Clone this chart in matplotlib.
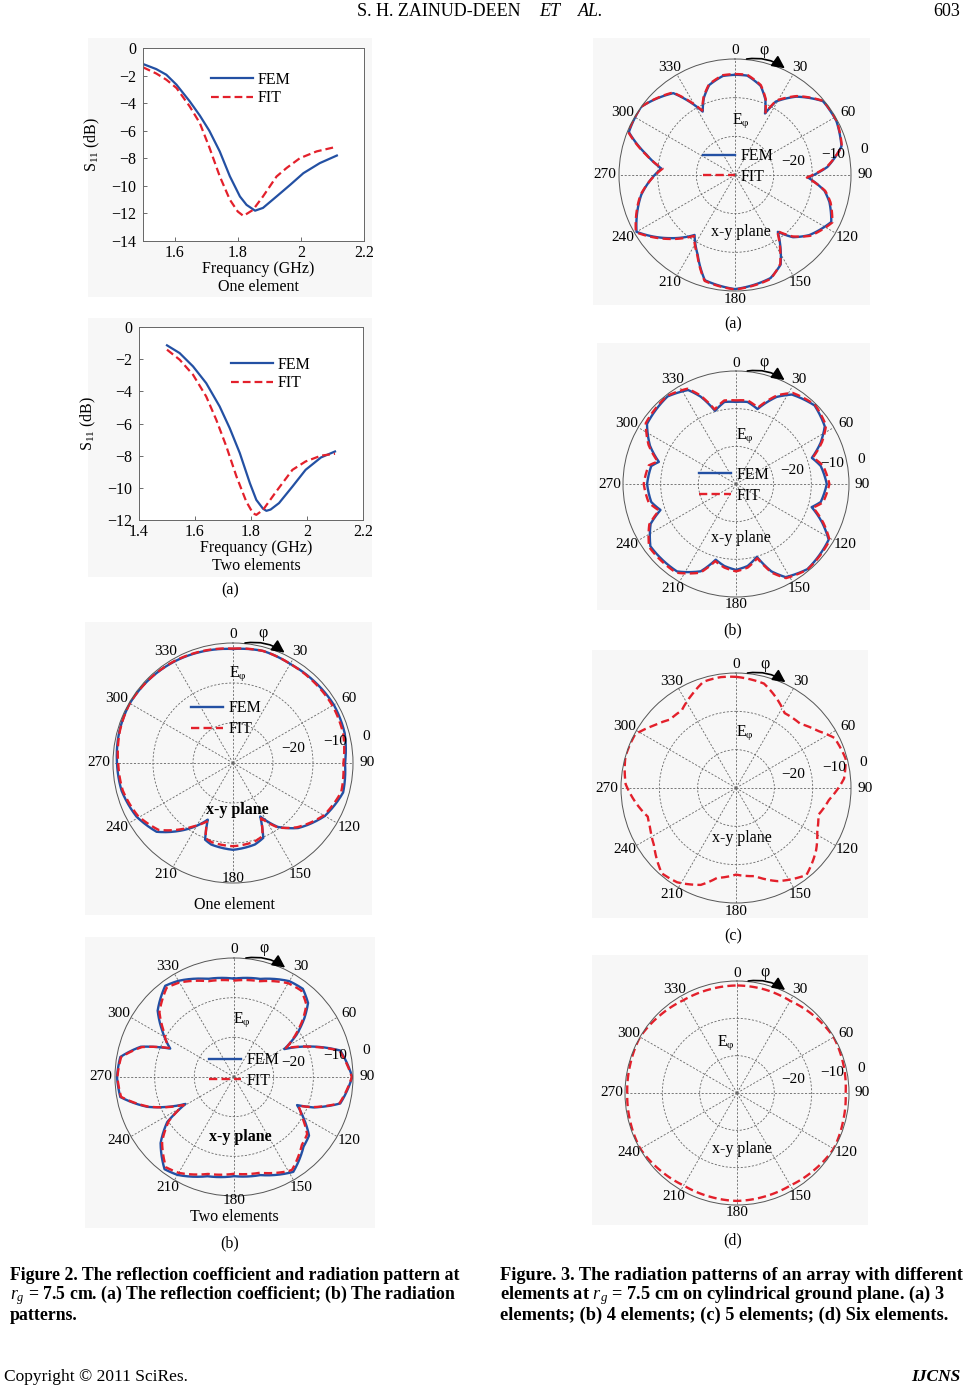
import numpy as np
import matplotlib.pyplot as plt
from matplotlib.patches import Rectangle

plt.rcParams['font.family'] = 'Liberation Serif'
plt.rcParams['mathtext.fontset'] = 'custom'
plt.rcParams['mathtext.rm'] = 'Liberation Serif'
plt.rcParams['mathtext.it'] = 'Liberation Serif:italic'
plt.rcParams['mathtext.bf'] = 'Liberation Serif:bold:italic'

########################## data ##########################
# S11, one element
freq_fem_1 = [1.50, 1.542, 1.574, 1.606, 1.648, 1.68, 1.71, 1.743, 1.775, 1.807, 1.828, 1.855, 1.88, 1.923, 1.966, 2.008, 2.06, 2.114]
s11_fem_1 = [-1.16, -1.53, -1.94, -2.66, -3.87, -4.9, -6.0, -7.5, -9.3, -10.77, -11.38, -11.8, -11.6, -10.77, -9.93, -9.08, -8.35, -7.8]
freq_fit_1 = [1.50, 1.542, 1.574, 1.606, 1.648, 1.68, 1.71, 1.743, 1.775, 1.80, 1.818, 1.848, 1.88, 1.923, 1.955, 1.997, 2.05, 2.108]
s11_fit_1 = [-1.40, -1.85, -2.3, -2.9, -4.24, -5.45, -7.2, -9.3, -11.0, -11.86, -12.18, -11.75, -10.77, -9.32, -8.7, -7.99, -7.5, -7.19]

# S11, two elements
freq_fem_2 = [1.50, 1.545, 1.593, 1.64, 1.688, 1.724, 1.76, 1.796, 1.819, 1.843, 1.855, 1.87, 1.90, 1.948, 1.995, 2.05, 2.10]
s11_fem_2 = [-1.14, -1.62, -2.45, -3.49, -4.94, -6.29, -7.84, -9.71, -10.75, -11.3, -11.43, -11.35, -10.95, -9.92, -8.88, -8.11, -7.74]
freq_fit_2 = [1.50, 1.545, 1.593, 1.64, 1.676, 1.712, 1.748, 1.783, 1.807, 1.819, 1.843, 1.89, 1.948, 1.995, 2.05, 2.10]
s11_fit_2 = [-1.41, -2.03, -2.97, -4.32, -5.77, -7.43, -9.29, -10.85, -11.58, -11.68, -11.37, -10.23, -8.88, -8.36, -8.0, -7.88]

# radiation patterns (angle in deg, gain in dB)
ang_one = [0, 15, 30, 45, 60, 75, 90, 105, 120, 135, 145, 153, 158, 165, 180, 195, 200, 204, 212, 218, 228, 241, 256, 270, 286, 300, 315, 330, 345, 360]
fem_one = [-1.5, -1.0, -1.4, -1.2, -0.9, -1.1, -2.0, -1.5, -3.5, -7.0, -10.5, -15.0, -9.8, -8.9, -8.3, -8.9, -9.6, -14.5, -11.0, -8.5, -4.3, -2.4, -1.3, -1.0, -0.5, -0.2, -0.4, -0.7, -1.1, -1.5]
fit_one = [-1.4, -1.0, -1.4, -1.4, -1.3, -1.5, -2.4, -2.0, -3.8, -7.3, -10.3, -14.5, -10.3, -9.6, -9.2, -9.5, -10.0, -14.0, -11.3, -9.0, -5.0, -2.8, -1.6, -1.3, -0.6, -0.2, -0.4, -0.6, -1.0, -1.4]

ang_two = [0, 15, 30, 38, 45, 50, 56, 61, 69, 76, 90, 104, 111, 114, 120, 128, 135, 148, 150, 165, 180, 195, 210, 217, 228, 236, 241, 251, 260, 270, 280, 288, 294, 303, 311, 323, 330, 345, 360]
fem_two = [-5.2, -4.4, -2.1, -1.8, -3.6, -6.8, -11.0, -15.5, -8.6, -2.4, -0.2, -2.4, -8.6, -12.6, -9.9, -6.0, -5.2, -1.8, -2.1, -4.4, -5.0, -4.1, -1.5, -0.9, -5.1, -9.7, -16.0, -6.9, -0.9, -0.5, -0.9, -5.3, -12.4, -8.4, -4.5, -1.2, -2.0, -4.4, -5.2]
fit_two = [-5.7, -5.0, -2.7, -2.4, -4.2, -7.3, -11.5, -15.0, -8.8, -2.6, -0.3, -2.6, -8.8, -12.2, -10.3, -6.6, -5.8, -2.4, -2.6, -5.0, -5.6, -4.7, -2.1, -1.5, -5.6, -10.2, -15.5, -7.1, -1.1, -0.6, -1.1, -5.6, -12.0, -8.9, -5.1, -1.8, -2.5, -5.0, -5.7]

ang_three = [0, 7, 16, 22, 26, 29, 38, 50, 62, 75, 85, 92, 100, 106, 116, 129, 137, 143, 153, 161, 180, 196, 205, 214, 226, 240, 258, 275, 283, 292, 306, 323, 333, 338, 344, 353, 360]
fem_three = [-4.1, -4.1, -6.0, -9.0, -12.3, -8.3, -4.3, -0.3, -0.3, -1.5, -6.0, -11.1, -6.5, -4.6, -2.3, -5.3, -8.0, -11.6, -4.0, -1.8, -0.5, -1.7, -7.2, -11.3, -6.5, -0.6, -5.2, -10.9, -6.5, -0.4, 0.0, -3.5, -11.6, -8.5, -5.8, -4.2, -4.1]
fit_three = [-3.9, -3.9, -5.8, -8.8, -12.0, -8.0, -4.1, -0.2, -0.2, -1.4, -6.2, -11.4, -6.3, -4.3, -2.0, -5.0, -8.3, -11.9, -4.2, -1.6, -0.4, -1.5, -7.0, -11.0, -6.2, -0.4, -5.0, -11.2, -6.3, -0.2, 0.0, -3.3, -11.3, -8.3, -5.6, -4.0, -3.9]

ang_four = [0, 8, 16, 25, 32, 45, 57, 64, 71, 78, 90, 102, 107, 114, 121, 140, 152, 158, 164, 172, 180, 188, 195, 202, 214, 234, 245, 251, 258, 270, 282, 286, 294, 304, 322, 333, 338, 344, 352, 360]
fem_four = [-8.2, -8.0, -9.3, -4.5, -2.0, -0.5, -1.9, -5.0, -8.7, -7.0, -5.9, -7.0, -9.0, -5.0, -1.3, -0.5, -2.0, -5.0, -9.9, -8.0, -7.2, -8.0, -9.2, -5.0, -2.0, -1.9, -5.0, -8.8, -7.0, -6.4, -7.0, -8.7, -5.0, -1.5, -0.5, -2.0, -5.0, -9.8, -8.0, -8.2]
fit_four = [-7.8, -7.6, -8.9, -4.0, -1.5, -0.3, -1.5, -4.6, -8.4, -6.4, -5.2, -6.4, -8.6, -4.6, -1.0, -0.4, -1.7, -4.6, -9.5, -7.6, -6.8, -7.6, -8.8, -4.6, -1.6, -1.5, -4.6, -8.4, -6.3, -5.5, -6.3, -8.4, -4.6, -1.1, -0.3, -1.6, -4.6, -9.4, -7.6, -7.8]

ang_five = [0, 15, 25, 33, 45, 55, 63, 75, 85, 97, 108, 118, 128, 141, 156, 168, 180, 192, 200, 212, 221, 235, 245, 252, 262, 272, 286, 298, 307, 316, 325, 335, 343, 352, 360]
fit_five = [-1.0, -1.8, -4.5, -6.7, -6.3, -4.0, -1.2, -0.4, -1.7, -5.5, -7.4, -6.0, -3.5, -0.8, -3.4, -6.5, -7.4, -6.0, -3.1, -1.0, -0.5, -3.9, -5.3, -5.8, -3.5, -1.2, 0.0, -0.2, -3.0, -5.2, -5.3, -3.0, -1.0, -0.8, -1.0]

ang_six = [0, 15, 30, 45, 60, 75, 90, 105, 120, 135, 150, 165, 180, 195, 210, 225, 240, 255, 270, 285, 300, 315, 330, 345, 360]
fit_six = [-1.2, -1.3, -1.5, -0.8, -0.1, -0.5, -0.9, -0.6, -0.1, -0.8, -1.4, -1.3, -1.1, -1.3, -1.4, -0.8, -0.1, -0.4, -0.6, -0.4, 0.0, -0.7, -1.3, -1.3, -1.2]

theta_ticks = list(range(0, 360, 30))
r_ticks = [-20, -10]
r_tick_labels = ['\u221220', '\u221210', '0']

########################## figure ##########################
W, H = 965, 1386
fig = plt.figure(figsize=(W / 100, H / 100), dpi=100)
blue = '#2350a3'
red = '#e3202b'
dash = (0, (3.5, 1.8))


def rect(l, t, r, b):
    return [l / W, 1 - b / H, (r - l) / W, (b - t) / H]


# faint grey backgrounds of the pasted sub-images
for l, t, r, b in [(88, 38, 372, 297), (88, 318, 372, 577), (85, 622, 372, 915), (85, 937, 375, 1228),
                   (593, 38, 870, 305), (597, 343, 870, 610), (592, 650, 868, 918), (592, 955, 868, 1225)]:
    fig.patches.append(Rectangle((l / W, 1 - b / H), (r - l) / W, (b - t) / H, transform=fig.transFigure,
                                 facecolor='#f7f7f7', edgecolor='none', zorder=-5))


def s11_panel(box, xf, yf, xr, yr, xlim, xticks, ylim, yticks, leg_xy, sub):
    ax = fig.add_axes(rect(*box))
    ax.plot(xf, yf, color=blue, lw=1.6, label='FEM')
    ax.plot(xr, yr, color=red, lw=1.6, ls=dash, label='FIT')
    ax.set_xlim(*xlim)
    ax.set_ylim(*ylim)
    ax.set_xticks(xticks)
    ax.set_xticklabels([('%g' % v) for v in xticks])
    ax.set_yticks(yticks)
    ax.set_yticklabels([('%d' % v).replace('-', '\u2212') for v in yticks])
    ax.tick_params(direction='in', length=3, labelsize=11.5, width=0.6, color='#555555', pad=3)
    ax.tick_params(axis='y', pad=5)
    ax.set_facecolor('white')
    for s in ax.spines.values():
        s.set_color('#666666')
        s.set_linewidth(0.7)
    ax.set_ylabel('S$_{11}$ (dB)', fontsize=11.5)
    ax.yaxis.set_label_coords(-0.185, 0.5)
    ax.legend(loc='center left', bbox_to_anchor=(leg_xy[0] / W, 1 - leg_xy[1] / H), bbox_transform=fig.transFigure,
              frameon=False, fontsize=11.5, handlelength=2.6, handletextpad=0.3, labelspacing=0.15,
              borderpad=0, borderaxespad=0)
    cx = (box[0] + box[2]) / 2 + 5
    fig.text(cx / W, 1 - (box[3] + 28) / H, 'Frequancy (GHz)', ha='center', va='center', fontsize=11.5)
    fig.text(cx / W, 1 - (box[3] + 46) / H, sub, ha='center', va='center', fontsize=11.5)
    return ax


s11_panel((143, 48, 364, 241), freq_fem_1, s11_fem_1, freq_fit_1, s11_fit_1, (1.5, 2.2), [1.6, 1.8, 2.0, 2.2],
          (-14, 0), list(range(-14, 1, 2)), (211, 89), 'One element')
s11_panel((139, 327, 363, 520), freq_fem_2, s11_fem_2, freq_fit_2, s11_fit_2, (1.4, 2.2), [1.4, 1.6, 1.8, 2.0, 2.2],
          (-12, 0), list(range(-12, 1, 2)), (231, 374), 'Two elements')


def polar_panel(cx, cy, R, curves, eph, xy_lbl, bold_xy, leg=None, r180=0.535):
    ax = fig.add_axes(rect(cx - R, cy - R, cx + R, cy + R), projection='polar')
    ax.set_theta_zero_location('N')
    ax.set_theta_direction(-1)
    ax.set_facecolor('none')
    for ang, val, col, ls, lab in curves:
        line, = ax.plot(np.deg2rad(ang), val, color=col, lw=1.7, ls=ls, label=lab)
        # draw each segment as a polar spiral, not as a straight chord
        line.get_path()._interpolation_steps = 24
    ax.set_ylim(-30, 0)
    ax.set_xticks(np.deg2rad(theta_ticks))
    ax.set_xticklabels([])
    ax.set_yticks(r_ticks)
    ax.set_yticklabels([])
    ax.grid(True, ls=(0, (2.5, 2)), color='#666666', lw=0.6)
    ax.spines['polar'].set_color('#555555')
    ax.spines['polar'].set_linewidth(0.7)
    for a in theta_ticks:
        t = np.deg2rad(a)
        ry = r180 if a == 180 else 0.535
        ax.text(0.5 + 0.56 * np.sin(t), 0.5 + ry * np.cos(t), str(a), transform=ax.transAxes,
                ha='center', va='center', fontsize=11)
    for lab, (ox, oy) in zip(r_tick_labels, [(0.5, 0.12), (0.85, 0.18), (1.11, 0.22)]):
        ax.text(0.5 + 0.5 * ox, 0.5 + 0.5 * oy, lab, transform=ax.transAxes, ha='center', va='center', fontsize=11)
    # phi arrow
    ax.annotate('', xy=(0.5 + 0.5 * 0.43, 0.5 + 0.5 * 0.92), xytext=(0.5 + 0.5 * 0.1, 0.5 + 0.5 * 1.0),
                xycoords='axes fraction', annotation_clip=False,
                arrowprops=dict(arrowstyle='-|>', connectionstyle='arc3,rad=-0.2', color='k', lw=1.2,
                                mutation_scale=19, shrinkA=0, shrinkB=0))
    ax.text(0.5 + 0.5 * 0.25, 0.5 + 0.5 * 1.08, '\u03c6', transform=ax.transAxes, ha='center', va='center',
            fontsize=11.5)
    ax.text(0.5 + 0.5 * eph[0], 0.5 + 0.5 * eph[1], 'E$_{\\mathrm{\u03c6}}$', transform=ax.transAxes,
            ha='center', va='center', fontsize=11.5)
    ax.text(xy_lbl[0], xy_lbl[1], 'x-y plane', transform=ax.transAxes, ha='center', va='center', fontsize=11.5,
            fontweight='bold' if bold_xy else 'normal')
    if leg is not None:
        ax.legend(loc='center left', bbox_to_anchor=leg, bbox_transform=ax.transAxes, frameon=False,
                  fontsize=11.5, handlelength=2.0, handletextpad=0.35, labelspacing=0.3, borderpad=0,
                  borderaxespad=0)
    return ax


polar_panel(233, 763, 120, [(ang_one, fem_one, blue, '-', 'FEM'), (ang_one, fit_one, red, dash, 'FIT')],
            (0.04, 0.74), (0.52, 0.306), True, leg=(0.326, 0.684), r180=0.48)
fig.text(234 / W, 1 - 905 / H, 'One element', ha='center', va='center', fontsize=11.5)
polar_panel(234, 1077, 119, [(ang_two, fem_two, blue, '-', 'FEM'), (ang_two, fit_two, red, dash, 'FIT')],
            (0.07, 0.48), (0.527, 0.248), True, leg=(0.394, 0.527), r180=0.52)
fig.text(234 / W, 1 - 1217 / H, 'Two elements', ha='center', va='center', fontsize=11.5)
fig.text(230 / W, 1 - 590 / H, '(a)', ha='center', va='center', fontsize=11.5)
fig.text(230 / W, 1 - 1243 / H, '(b)', ha='center', va='center', fontsize=11.5)

polar_panel(735, 175, 116, [(ang_three, fem_three, blue, '-', 'FEM'), (ang_three, fit_three, red, dash, 'FIT')],
            (0.055, 0.47), (0.527, 0.256), False, leg=(0.362, 0.536))
polar_panel(736, 484, 113, [(ang_four, fem_four, blue, '-', 'FEM'), (ang_four, fit_four, red, dash, 'FIT')],
            (0.08, 0.43), (0.52, 0.26), False, leg=(0.335, 0.495))
polar_panel(736, 788, 115, [(ang_five, fit_five, red, dash, 'FIT')], (0.08, 0.48), (0.526, 0.283), False)
polar_panel(737, 1093, 112, [(ang_six, fit_six, red, dash, 'FIT')], (-0.1, 0.45), (0.52, 0.248), False)
for lab, y in [('(a)', 324), ('(b)', 630), ('(c)', 936), ('(d)', 1240)]:
    fig.text(733 / W, 1 - y / H, lab, ha='center', va='center', fontsize=11.5)

########################## page text ##########################
fig.text(357 / W, 1 - 12 / H, 'S. H. ZAINUD-DEEN', ha='left', va='center', fontsize=13)
fig.text(539 / W, 1 - 12 / H, 'ET', ha='left', va='center', fontsize=13, style='italic')
fig.text(578 / W, 1 - 12 / H, 'AL.', ha='left', va='center', fontsize=13, style='italic')
fig.text(960 / W, 1 - 11 / H, '603', ha='right', va='center', fontsize=13)

cap_left = ['Figure 2. The reflection coefficient and radiation pattern at',
            '$r_g$ = 7.5 cm. (a) The reflection coefficient; (b) The radiation',
            'patterns.']
cap_right = ['Figure. 3. The radiation patterns of an array with different',
             'elements at $r_g$ = 7.5 cm on cylindrical ground plane. (a) 3',
             'elements; (b) 4 elements; (c) 5 elements; (d) Six elements.']
for i, (a, b) in enumerate(zip(cap_left, cap_right)):
    y = 1 - (1275 + 20 * i) / H
    fig.text(10 / W, y, a, ha='left', va='center', fontsize=12.8, fontweight='bold')
    fig.text(500 / W, y, b, ha='left', va='center', fontsize=13.2, fontweight='bold')

fig.text(4 / W, 1 - 1377 / H, 'Copyright \u00a9 2011 SciRes.', ha='left', va='center', fontsize=12.5)
fig.text(960 / W, 1 - 1377 / H, 'IJCNS', ha='right', va='center', fontsize=12.5, style='italic', fontweight='bold')

fig.savefig('out.png', dpi=100)
